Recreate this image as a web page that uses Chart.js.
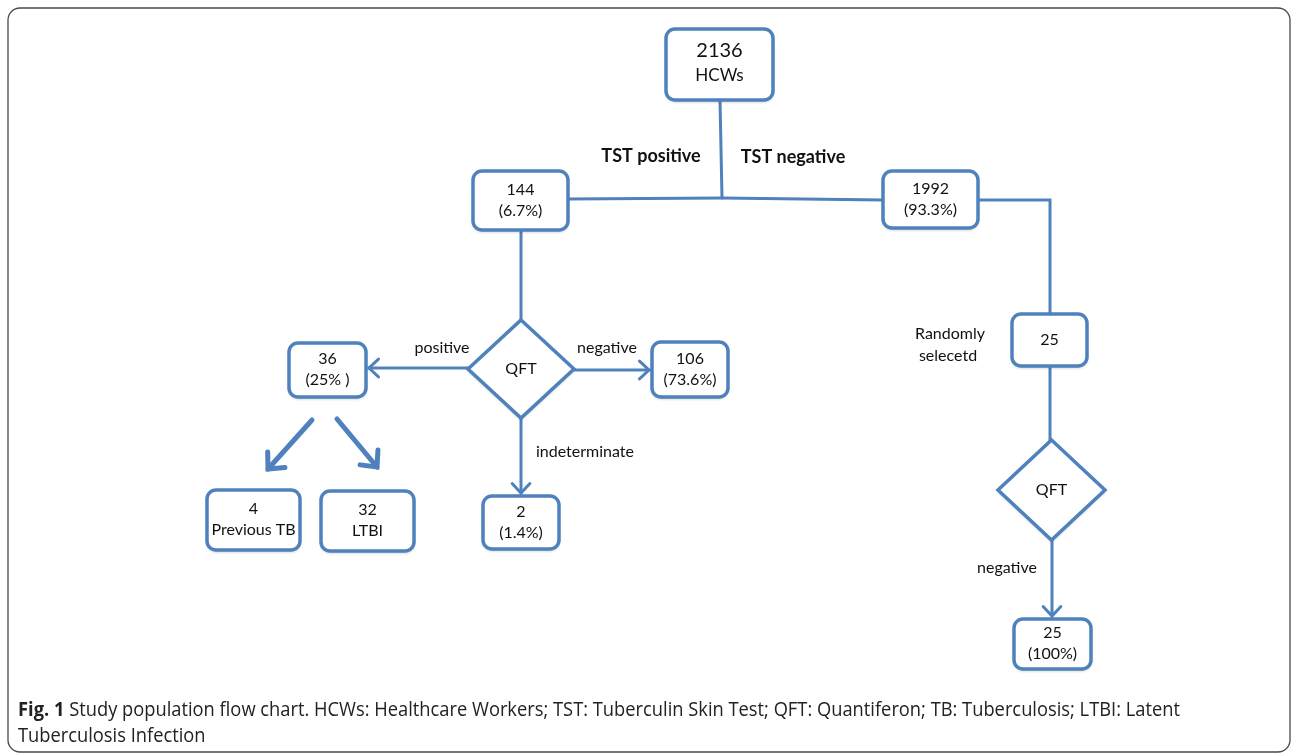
<!DOCTYPE html>
<html>
<head>
<meta charset="utf-8">
<script src="https://cdn.jsdelivr.net/npm/chart.js@4/dist/chart.umd.min.js"></script>
<style>
  body { margin: 0; background: #fff; }
  #wrap { width: 1293px; height: 755px; }
</style>
</head>
<body>
<div id="wrap"><canvas id="flow" width="1293" height="755"></canvas></div>
<script>
// flow chart content: box texts and their centres (chart units)
const boxText = [
  ["2136", "HCWs"], ["144", "(6.7%)"], ["1992", "(93.3%)"], ["36", "(25% )"],
  ["106", "(73.6%)"], ["4", "Previous TB"], ["32", "LTBI"], ["2", "(1.4%)"],
  ["25"], ["25", "(100%)"],
];
const boxX = [719.5, 520.5, 930.5, 327.5, 690, 253.5, 367.5, 521, 1049.5, 1052.5];
const boxY = [64.5, 200.5, 199.5, 370, 369.5, 520, 521, 522.5, 340, 644];
const boxSize = [[107, 71], [95, 59], [95, 57], [77, 54], [76, 55], [93, 60], [93, 60], [76, 53], [75, 52], [77, 50]];

const diamondText = ["QFT", "QFT"];
const diamondX = [521, 1051.5];
const diamondY = [369, 490];
const diamondSize = [[106, 98], [107, 100]];

// connectors: list of [x, y] points, arrow = head at last point
const links = [
  { pts: [[720, 100], [722, 198]] },
  { pts: [[568, 199], [722, 198], [883, 200]] },
  { pts: [[978, 200], [1050, 200], [1050, 314]] },
  { pts: [[521, 230], [521, 320]] },
  { pts: [[468, 368], [369, 368]], arrow: true },
  { pts: [[575, 370], [649, 370]], arrow: true },
  { pts: [[521, 418], [521, 493]], arrow: true },
  { pts: [[1050, 366], [1050, 440]] },
  { pts: [[1052, 540], [1052, 616]], arrow: true },
  { pts: [[312, 420], [268, 469]], arrow: true, fat: true },
  { pts: [[337, 419], [377, 467]], arrow: true, fat: true },
];

const labelText = ["TST positive", "TST negative", "positive", "negative", "indeterminate", "Randomly", "selecetd", "negative"];
const labelX = [651, 793, 442, 607, 585, 950, 948, 1007];
const labelY = [156, 157, 348, 348, 452, 334, 356, 568];
const labelBold = [true, true, false, false, false, false, false, false];

const caption1 = "Study population flow chart. HCWs: Healthcare Workers; TST: Tuberculin Skin Test; QFT: Quantiferon; TB: Tuberculosis; LTBI: Latent";
const caption2 = "Tuberculosis Infection";

const BLUE = "#4f81bd";
const FONT = "Lato, 'Open Sans', sans-serif";
const CAP_FONT = "20px 'Open Sans', sans-serif";

function rrect(ctx, x, y, w, h, r) {
  ctx.beginPath();
  ctx.moveTo(x + r, y);
  ctx.arcTo(x + w, y, x + w, y + h, r);
  ctx.arcTo(x + w, y + h, x, y + h, r);
  ctx.arcTo(x, y + h, x, y, r);
  ctx.arcTo(x, y, x + w, y, r);
  ctx.closePath();
}

const flowPlugin = {
  id: "flow",
  afterDatasetsDraw(chart) {
    const ctx = chart.ctx;
    const sx = chart.scales.x, sy = chart.scales.y;
    const px = (v) => sx.getPixelForValue(v);
    const py = (v) => sy.getPixelForValue(v);

    ctx.save();
    // outer frame
    ctx.strokeStyle = "#4a4a4a";
    ctx.lineWidth = 1.3;
    rrect(ctx, px(8), py(8), px(1290) - px(8), py(752) - py(8), 12);
    ctx.stroke();

    // arrow heads
    links.forEach((l) => {
      if (!l.arrow) return;
      const a = l.pts[l.pts.length - 2], b = l.pts[l.pts.length - 1];
      const x1 = px(a[0]), y1 = py(a[1]), x2 = px(b[0]), y2 = py(b[1]);
      const ang = Math.atan2(y2 - y1, x2 - x1);
      const len = l.fat ? 17 : 13;
      ctx.strokeStyle = BLUE;
      ctx.lineWidth = l.fat ? 5 : 3;
      ctx.lineCap = "round";
      ctx.beginPath();
      ctx.moveTo(x2 - len * Math.cos(ang - 0.75), y2 - len * Math.sin(ang - 0.75));
      ctx.lineTo(x2, y2);
      ctx.lineTo(x2 - len * Math.cos(ang + 0.75), y2 - len * Math.sin(ang + 0.75));
      ctx.stroke();
    });

    // boxes
    ctx.textAlign = "center";
    ctx.textBaseline = "middle";
    boxText.forEach((t, i) => {
      const w = boxSize[i][0], h = boxSize[i][1];
      const x = px(boxX[i] - w / 2), y = py(boxY[i] - h / 2);
      ctx.shadowColor = "rgba(0,0,0,0.25)";
      ctx.shadowBlur = 3;
      ctx.shadowOffsetY = 2;
      ctx.fillStyle = "#fff";
      rrect(ctx, x, y, w, h, 9);
      ctx.fill();
      ctx.shadowColor = "transparent";
      ctx.strokeStyle = BLUE;
      ctx.lineWidth = 3.5;
      rrect(ctx, x, y, w, h, 9);
      ctx.stroke();
      ctx.fillStyle = "#111";
      const big = i === 0;
      if (t.length === 1) {
        ctx.font = "16px " + FONT;
        ctx.fillText(t[0], px(boxX[i]), py(boxY[i]));
      } else {
        ctx.font = (big ? "20px " : "16px ") + FONT;
        ctx.fillText(t[0], px(boxX[i]), py(boxY[i]) - (big ? 14 : 11));
        ctx.font = (big ? "17px " : "16px ") + FONT;
        ctx.fillText(t[1], px(boxX[i]), py(boxY[i]) + (big ? 11 : 10));
      }
    });

    // decision diamonds
    diamondText.forEach((t, i) => {
      const cx = px(diamondX[i]), cy = py(diamondY[i]);
      const hw = diamondSize[i][0] / 2, hh = diamondSize[i][1] / 2;
      ctx.shadowColor = "rgba(0,0,0,0.25)";
      ctx.shadowBlur = 3;
      ctx.shadowOffsetY = 2;
      ctx.fillStyle = "#fff";
      ctx.beginPath();
      ctx.moveTo(cx, cy - hh);
      ctx.lineTo(cx + hw, cy);
      ctx.lineTo(cx, cy + hh);
      ctx.lineTo(cx - hw, cy);
      ctx.closePath();
      ctx.fill();
      ctx.shadowColor = "transparent";
      ctx.strokeStyle = BLUE;
      ctx.lineWidth = 3.5;
      ctx.lineJoin = "miter";
      ctx.stroke();
      ctx.fillStyle = "#111";
      ctx.font = "16px " + FONT;
      ctx.fillText(t, cx, cy);
    });

    // free labels
    labelText.forEach((t, i) => {
      ctx.font = (labelBold[i] ? "bold 18px " : "16px ") + FONT;
      ctx.fillStyle = "#111";
      ctx.fillText(t, px(labelX[i]), py(labelY[i]));
    });

    // caption, squeezed like the condensed original
    ctx.textAlign = "left";
    ctx.fillStyle = "#222";
    ctx.font = "bold " + CAP_FONT;
    const figW = ctx.measureText("Fig. 1 ").width;
    ctx.font = CAP_FONT;
    const restW = ctx.measureText(caption1).width;
    const k = (1180 - 18) / (figW + restW);
    ctx.save();
    ctx.translate(px(18), py(710));
    ctx.scale(k, 1);
    ctx.font = "bold " + CAP_FONT;
    ctx.fillText("Fig. 1 ", 0, 0);
    ctx.font = CAP_FONT;
    ctx.fillText(caption1, figW, 0);
    ctx.fillText(caption2, 0, py(736) - py(710));
    ctx.restore();
    ctx.restore();
  },
};

const datasets = links.map((l) => ({
  data: l.pts.map((p) => ({ x: p[0], y: p[1] })),
  showLine: true,
  borderColor: BLUE,
  borderWidth: l.fat ? 5 : 3,
  pointRadius: 0,
  borderCapStyle: "round",
}));

new Chart(document.getElementById("flow"), {
  type: "scatter",
  data: { datasets },
  options: {
    responsive: false,
    animation: false,
    layout: { padding: 0 },
    plugins: { legend: { display: false }, tooltip: { enabled: false } },
    scales: {
      x: { type: "linear", min: 0, max: 1293, display: false },
      y: { type: "linear", min: 0, max: 755, reverse: true, display: false },
    },
  },
  plugins: [flowPlugin],
});
</script>
</body>
</html>
